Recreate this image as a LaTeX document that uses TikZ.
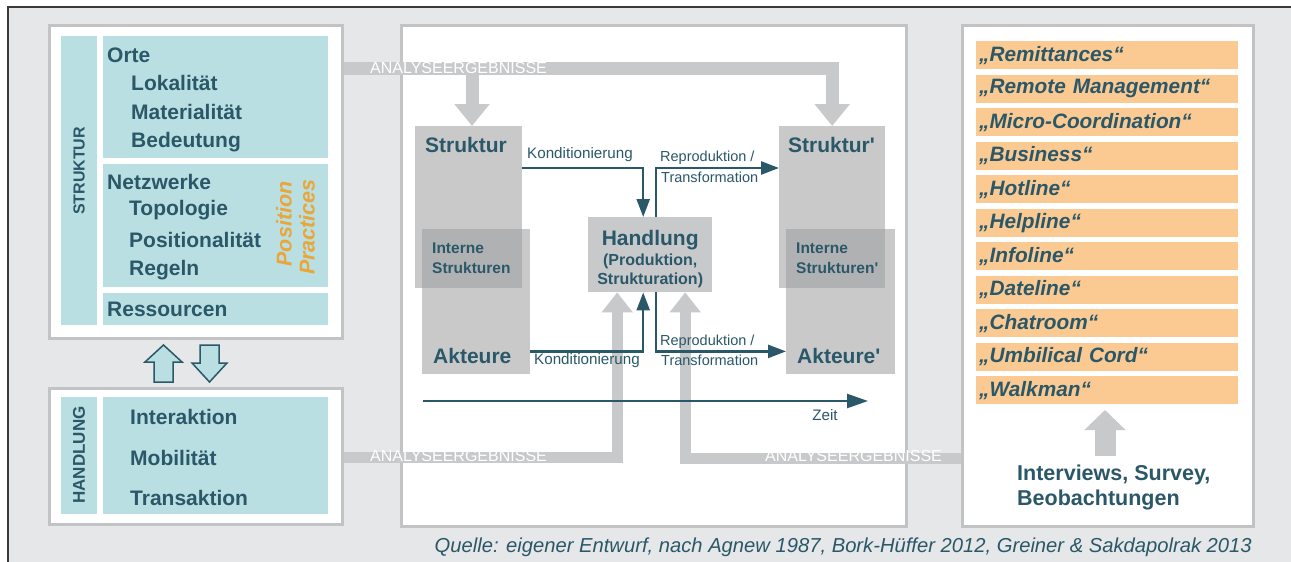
\documentclass[tikz,border=0pt]{standalone}
\usepackage{fontspec}
\setmainfont{Liberation Sans}
\usepackage{tikz}
\usetikzlibrary{positioning,arrows.meta}
\definecolor{bg_gray}{HTML}{E6E7E8}
\definecolor{frame_dark}{HTML}{3A3A3A}
\definecolor{box_line}{HTML}{C2C3C5}
\definecolor{teal_light}{HTML}{BADFE2}
\definecolor{teal_dark}{HTML}{2A5869}
\definecolor{orange_light}{HTML}{FBC992}
\definecolor{orange_text}{HTML}{E9A63A}
\definecolor{gray_arrow}{HTML}{C8C9CB}
\definecolor{gray_block}{HTML}{9D9EA0}
\newcommand{\fsz}[1]{\fontsize{#1}{#1}\selectfont}

\begin{document}
\begin{tikzpicture}[x=1pt,y=-1pt,
  panel/.style={draw=box_line, line width=2.5pt, fill=white, inner sep=0pt, anchor=north west},
  tealbox/.style={fill=teal_light, inner sep=0pt, anchor=north west},
  blockbox/.style={fill=gray_block, fill opacity=0.55, inner sep=0pt, anchor=north west},
  itemtxt/.style={text=teal_dark, font=\bfseries\fsz{21}, anchor=west, inner sep=0pt},
  blocktxt/.style={text=teal_dark, font=\bfseries\fsz{21}, anchor=west, inner sep=0pt},
  smalltxt/.style={text=teal_dark, font=\fsz{14.5}, inner sep=0pt},
  bartxt/.style={text=white, font=\fsz{16}, anchor=west, inner sep=0pt},
  tealarr/.style={draw=teal_dark, line width=2.5pt, -{Triangle[length=18pt,width=13pt]}},
  grayarr/.style={draw=gray_arrow, line width=13pt, -{Triangle[length=22pt,width=34pt]}},
  graybar/.style={draw=gray_arrow, line width=11pt, -{Triangle[length=20pt,width=30pt]}},
  hollowarr/.style={draw=teal_dark, line width=1.5pt, fill=teal_light},
  listitem/.style={fill=orange_light, text=teal_dark, font=\bfseries\itshape\fsz{20.8},
    minimum width=262pt, minimum height=28pt, text width=256pt, inner xsep=3pt,
    inner ysep=0pt, anchor=north west}]
\useasboundingbox (0,0) rectangle (1291,562);

  % Hintergrund
  \fill[bg_gray] (8,7) rectangle (1291,562);
  \draw[frame_dark, line width=1.5pt] (8,562) -- (8,7) -- (1291,7);

  % Rahmen
  \node[panel, minimum width=293pt, minimum height=313pt] (strukbox) at (48,24) {};
  \node[panel, minimum width=293pt, minimum height=136pt] (handbox) at (48,387) {};
  \node[panel, minimum width=505pt, minimum height=501pt] (midbox) at (400,24) {};
  \node[panel, minimum width=291pt, minimum height=501pt] (rightbox) at (961,24) {};

  % Struktur links
  \node[tealbox, minimum width=36pt, minimum height=289pt] (strukcol) at (61,36) {};
  \node[text=teal_dark, font=\bfseries\fsz{16}, rotate=90] at (79,171) {STRUKTUR};
  \node[tealbox, minimum width=225pt, minimum height=122pt] (orte) at (103,36) {};
  \node[tealbox, minimum width=225pt, minimum height=123pt] (netz) at (103,164) {};
  \node[tealbox, minimum width=225pt, minimum height=32pt] (ress) at (103,293) {};

  \node[itemtxt] (orte_t) at (107,55) {Orte};
  \node[itemtxt] (lokal) at (131,83) {Lokalität};
  \node[itemtxt] (mater) at (131,112) {Materialität};
  \node[itemtxt] (bedeut) at (131,142) {Bedeutung};
  \node[itemtxt] (netz_t) at (107,182) {Netzwerke};
  \node[itemtxt] (topo) at (129,210) {Topologie};
  \node[itemtxt] (posit) at (129,240) {Positionalität};
  \node[itemtxt] (regeln) at (129,270) {Regeln};
  \node[itemtxt] (ress_t) at (107,309) {Ressourcen};
  \node[text=orange_text, font=\bfseries\itshape\fsz{21.5}, rotate=90] (posi) at (284,224) {Position};
  \node[text=orange_text, font=\bfseries\itshape\fsz{21.5}, rotate=90] (prac) at (307,227) {Practices};

  % Handlung links
  \node[tealbox, minimum width=36pt, minimum height=117pt] (handcol) at (61,397) {};
  \node[text=teal_dark, font=\bfseries\fsz{17}, rotate=90] at (79,455) {HANDLUNG};
  \node[tealbox, minimum width=225pt, minimum height=117pt] (handpanel) at (103,397) {};
  \node[itemtxt] (inter) at (130,417) {Interaktion};
  \node[itemtxt] (mobil) at (130,458) {Mobilität};
  \node[itemtxt] (trans) at (130,498) {Transaktion};

  % Pfeile zwischen Struktur und Handlung
  \draw[hollowarr] (154,382) -- (154,362) -- (145,362) -- (163.5,345) -- (182,362) -- (173,362) -- (173,382) -- cycle;
  \draw[hollowarr] (200,345) -- (200,363) -- (192,363) -- (209.5,382) -- (227,363) -- (219,363) -- (219,345) -- cycle;

  % Liste rechts
  \foreach \txt [count=\i from 0] in {„Remittances“, „Remote Management“, „Micro-Coordination“,
      „Business“, „Hotline“, „Helpline“, „Infoline“, „Dateline“, „Chatroom“,
      „Umbilical Cord“, „Walkman“}
    \node[listitem] (item\i) at (976,41+33.5*\i) {\txt};

  % Bloecke Mitte
  \node[blockbox, minimum width=107pt, minimum height=162pt] (strukL) at (415,126) {};
  \node[blockbox, minimum width=108pt, minimum height=145pt] (aktL) at (422,229) {};
  \node[blockbox, minimum width=106pt, minimum height=162pt] (strukR) at (779,126) {};
  \node[blockbox, minimum width=109pt, minimum height=145pt] (aktR) at (786,229) {};
  \node[fill=gray_arrow, inner sep=0pt, anchor=north west, minimum width=124pt, minimum height=75pt] (handl) at (588,217) {};
  \node[align=center, text=teal_dark, font=\bfseries, inner sep=0pt] (handl_t) at ([yshift=-4pt]handl.center)
    {\fsz{21}Handlung\\[3pt]\fsz{16}(Produktion,\\[3pt]\fsz{16}Strukturation)};

  % Analyseergebnisse
  \coordinate (bar_l) at (472,68);
  \draw[grayarr] ([yshift=-44pt]strukbox.north east) -| (strukR.north);
  \draw[grayarr] (bar_l) -- (strukL.north -| bar_l);
  \node[bartxt] at (370,68) {ANALYSEERGEBNISSE};

  \draw[graybar] ([yshift=68pt]handbox.south east) -| ([xshift=-33pt]handl.south);
  \node[bartxt] at (370,456) {ANALYSEERGEBNISSE};
  \draw[graybar] ([yshift=69pt]rightbox.south west) -| ([xshift=35pt]handl.south);
  \node[bartxt] at (765,456) {ANALYSEERGEBNISSE};

  \node[blocktxt] at (425,145) {Struktur};
  \node[text=teal_dark, font=\bfseries\fsz{15.5}, align=left, anchor=west, inner sep=0pt] at (432,258) {Interne\\[4pt]Strukturen};
  \node[blocktxt] at (433,356) {Akteure};
  \node[blocktxt] at (788,145) {Struktur\textquotesingle};
  \node[text=teal_dark, font=\bfseries\fsz{15.5}, align=left, anchor=west, inner sep=0pt] at (796,258) {Interne\\[4pt]Strukturen\textquotesingle};
  \node[blocktxt] at (797,356) {Akteure\textquotesingle};

  % Konditionierung / Reproduktion
  \draw[tealarr] ([yshift=-42pt]strukL.north east) -| ([xshift=-7pt]handl.north);
  \node[smalltxt, anchor=west, font=\fsz{15.2}] at (527,155) {Konditionierung};
  \draw[tealarr] ([xshift=6pt]handl.north) |- ([yshift=-42pt]strukR.north west);
  \node[smalltxt, anchor=west] at (660,158) {Reproduktion /};
  \node[smalltxt, anchor=west] at (661,177) {Transformation};

  \draw[tealarr] ([yshift=23pt]aktL.south east) -| ([xshift=-7pt]handl.south);
  \node[smalltxt, anchor=west, font=\fsz{15.2}] at (534,361) {Konditionierung};
  \draw[tealarr] ([xshift=6pt]handl.south) |- ([yshift=23pt]aktR.south west);
  \node[smalltxt, anchor=west] at (660,342) {Reproduktion /};
  \node[smalltxt, anchor=west] at (661,360) {Transformation};

  % Zeit
  \coordinate (zeit0) at (423,401);
  \coordinate (zeit1) at (868,401);
  \draw[tealarr, -{Triangle[length=21pt,width=14pt]}] (zeit0) -- (zeit1);
  \node[smalltxt, font=\fsz{15.2}] at (825,415) {Zeit};

  % Erhebung
  \node[text=teal_dark, font=\bfseries\fsz{21.5}, align=left, anchor=north west, inner sep=0pt] (interv) at (1017,465)
    {Interviews, Survey,\\[3pt]Beobachtungen};
  \coordinate (erheb0) at (1105,456);
  \coordinate (erheb1) at (1105,410);
  \draw[draw=gray_arrow, line width=21pt, -{Triangle[length=20pt,width=40pt]}] (erheb0) -- (erheb1);

  % Quelle
  \node[text=teal_dark, font=\itshape\fsz{20.2}, anchor=east, inner sep=0pt] at (1252,547)
    {Quelle: eigener Entwurf, nach Agnew 1987, Bork-Hüffer 2012, Greiner \& Sakdapolrak 2013};
\end{tikzpicture}
\end{document}
